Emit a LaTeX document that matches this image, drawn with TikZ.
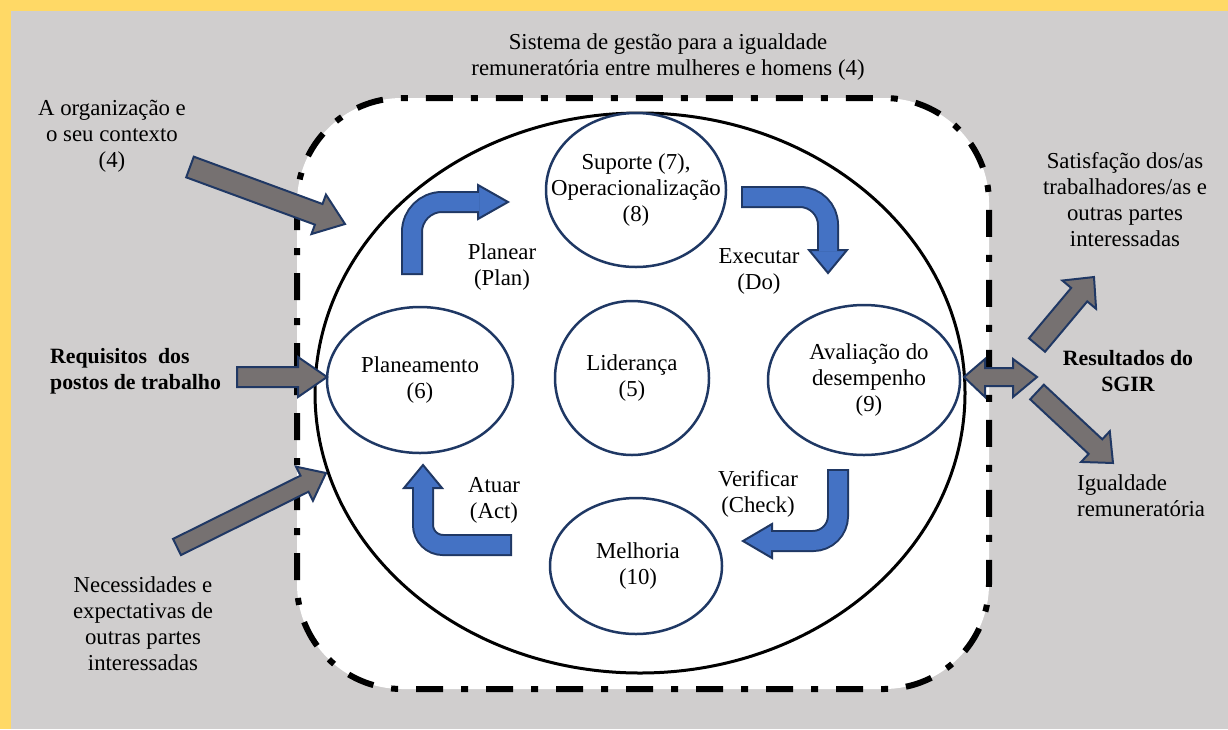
\documentclass[tikz,border=0pt]{standalone}
\usepackage{fontspec}
\setmainfont{Liberation Serif}
\usetikzlibrary{shapes.geometric}
\definecolor{bgyellow}{HTML}{FFD966}
\definecolor{bggray}{HTML}{D0CECE}
\definecolor{arrgray}{HTML}{767171}
\definecolor{navy}{HTML}{203864}
\definecolor{ellnavy}{HTML}{1F3864}
\definecolor{bluefill}{HTML}{4472C4}
\tikzset{
  lbl/.style={font=\fontsize{22.8}{26}\selectfont, align=center, inner sep=0pt, text=black},
  lblb/.style={lbl, font=\fontsize{21.8}{26}\selectfont\bfseries},
  stage/.style={ellipse, draw=ellnavy, line width=2.5pt, fill=white, inner sep=0pt},
  grayarrow/.style={fill=arrgray, draw=navy, line width=2pt, line join=miter},
  bluehead/.style={fill=bluefill, draw=navy, line width=2pt, line join=miter},
  blueborder/.style={draw=navy, line width=22pt},
  blueshaft/.style={draw=bluefill, line width=18pt},
  frame/.style={draw=black, line width=6pt, dash pattern=on 27pt off 18pt on 7pt off 18pt, fill=white}
}
% gray straight block arrow: tail x,y ; tip x,y ; shaft half ; head half ; head length
\newcommand\garrow[7]{%
  \pgfmathsetmacro\gdx{#3-#1}\pgfmathsetmacro\gdy{#4-#2}%
  \pgfmathsetmacro\gang{atan2(-\gdy,\gdx)}%
  \pgfmathsetmacro\glen{veclen(\gdx,\gdy)}%
  \begin{scope}[shift={(#1,#2)},rotate=\gang]
    \draw[grayarrow] (0,-#5) -- (\glen-#7,-#5) -- (\glen-#7,-#6) -- (\glen,0)
      -- (\glen-#7,#6) -- (\glen-#7,#5) -- (0,#5) -- cycle;
  \end{scope}}
\begin{document}
\begin{tikzpicture}[x=1pt,y=-1pt]
\useasboundingbox (0,0) rectangle (1228,729);
\fill[bgyellow] (0,0) rectangle (1228,729);
\fill[bggray] (11,11) rectangle (1228,729);
% system frame
\draw[frame, rounded corners=105pt] (297,98) rectangle (989,689);
% big ellipse
\draw[line width=3pt] (640,393) ellipse [x radius=325, y radius=280];
% title
\node[lbl] (title) at (668,57.5) {Sistema de gestão para a igualdade\\remuneratória entre mulheres e homens (4)};
% stages
\node[stage, minimum width=180pt, minimum height=154pt] (sup) at (636,190) {};
\node[lbl] (suptxt) at (sup.center) {Suporte (7),\\Operacionalização\\(8)};
\node[stage, minimum width=186pt, minimum height=146pt] (plane) at (420,380) {};
\node[lbl] (planetxt) at (plane.center) {Planeamento\\(6)};
\node[stage, minimum width=154pt, minimum height=154pt] (lid) at (632,378) {};
\node[lbl] (lidtxt) at (lid.center) {Liderança\\(5)};
\node[stage, minimum width=192pt, minimum height=150pt] (aval) at (864,380) {};
\node[lbl] (avaltxt) at (869,380) {Avaliação do\\desempenho\\(9)};
\node[stage, minimum width=172pt, minimum height=136pt] (melh) at (636,566) {};
\node[lbl] (melhtxt) at (638,566) {Melhoria\\(10)};
% blue cycle arrows
\coordinate (planA) at (412,273); \coordinate (planB) at (412,202); \coordinate (planC) at (479,202);
\draw[blueborder, rounded corners=30pt] (412,275) -- (planB) -- (planC);
\draw[bluehead] (478,185) -- (508,202) -- (478,219) -- cycle;
\draw[blueshaft, rounded corners=30pt] (planA) -- (planB) -- (planC);

\coordinate (doA) at (743,197); \coordinate (doB) at (828,197); \coordinate (doC) at (828,251);
\draw[blueborder, rounded corners=28pt] (741,197) -- (doB) -- (doC);
\draw[bluehead] (809,250) -- (828,273) -- (847,250) -- cycle;
\draw[blueshaft, rounded corners=28pt] (doA) -- (doB) -- (doC);

\coordinate (chA) at (838,471); \coordinate (chB) at (838,541); \coordinate (chC) at (771,541);
\draw[blueborder, rounded corners=25pt] (838,469) -- (chB) -- (chC);
\draw[bluehead] (772,524) -- (743,541) -- (772,558) -- cycle;
\draw[blueshaft, rounded corners=25pt] (chA) -- (chB) -- (chC);

\coordinate (acA) at (510,545); \coordinate (acB) at (423,545); \coordinate (acC) at (423,487);
\draw[blueborder, rounded corners=20pt] (512,545) -- (acB) -- (acC);
\draw[bluehead] (404,488) -- (423,465) -- (442,488) -- cycle;
\draw[blueshaft, rounded corners=20pt] (acA) -- (acB) -- (acC);
% cycle labels
\node[lbl] (planear) at (502,267.5) {Planear\\(Plan)};
\node[lbl] (executar) at (759,271) {Executar\\(Do)};
\node[lbl] (verificar) at (758,493.5) {Verificar\\(Check)};
\node[lbl] (atuar) at (494,500.5) {Atuar\\(Act)};
% inputs
\node[lbl] (org) at (112,136.5) {A organização e\\o seu contexto\\(4)};
\node[lblb, align=left, anchor=west] (req) at (50,371.5) {Requisitos\ \ dos\\postos de trabalho};
\node[lbl] (nec) at (143,623.5) {Necessidades e\\expectativas de\\outras partes\\interessadas};
\garrow{190}{167}{345}{224}{11}{21}{28}
\garrow{237}{377}{327}{377}{10}{20}{29}
\garrow{177}{547}{326}{473}{9}{19}{24}
% outputs
\draw[grayarrow] (964,377) -- (985,359) -- (985,368) -- (1013,368) -- (1013,359) -- (1037,377)
  -- (1013,397) -- (1013,386) -- (985,386) -- (985,397) -- cycle;
\garrow{1037}{345}{1094}{277}{10.5}{22}{23}
\garrow{1037}{392}{1113}{463}{10}{21}{24}
\node[lbl] (sat) at (1125,200) {Satisfação dos/as\\trabalhadores/as e\\outras partes\\interessadas};
\node[lblb] (res) at (1128,371.5) {Resultados do\\SGIR};
\node[lbl, align=left, anchor=west] (igu) at (1077,496) {Igualdade\\remuneratória};
\end{tikzpicture}
\end{document}
